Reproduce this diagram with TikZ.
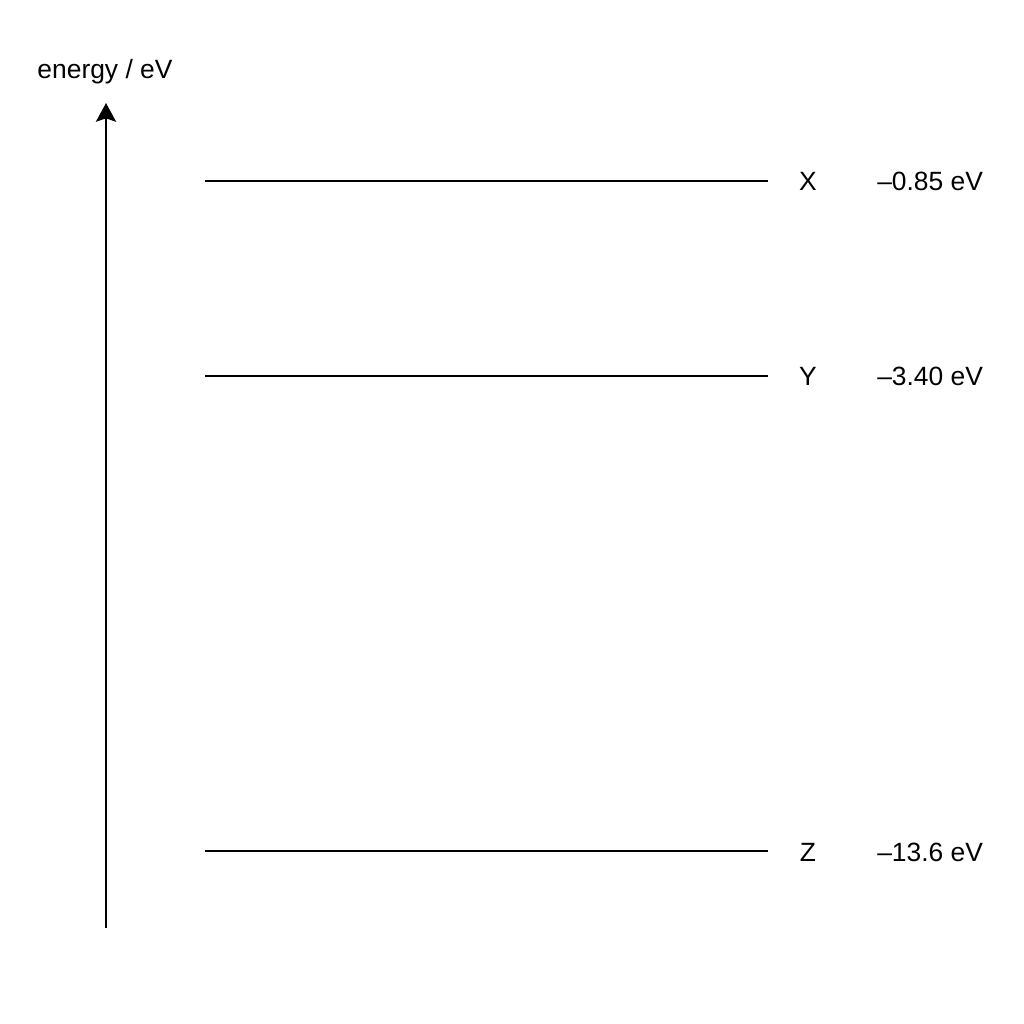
\documentclass[tikz,border=0pt]{standalone}
\usepackage{fontspec}
\setmainfont{Liberation Sans}
\usetikzlibrary{arrows.meta}
\begin{document}
\begin{tikzpicture}[x=0.75pt,y=-0.75pt,
  level/.style={line width=1.9pt},
  lbl/.style={font=\fontsize{19.8pt}{22pt}\selectfont, inner sep=0pt},
  axis/.style={line width=2pt, -{Stealth[length=14pt,width=15pt,inset=2.5pt]}}]
\useasboundingbox[fill=white] (0,0) rectangle (1024,1024);
\coordinate (abot) at (106,928);
\coordinate (atop) at (106,103);
\draw[axis] (abot) -- (atop);
\node[lbl] (axlabel) at (105,72) {energy / eV};
\coordinate (xa) at (205,181); \coordinate (xb) at (768,181);
\coordinate (ya) at (205,376); \coordinate (yb) at (768,376);
\coordinate (za) at (205,851); \coordinate (zb) at (768,851);
\draw[level] (xa) -- (xb);
\draw[level] (ya) -- (yb);
\draw[level] (za) -- (zb);
\node[lbl] (X) at (808,181) {X};
\node[lbl] (Y) at (808,376) {Y};
\node[lbl] (Z) at (808,852) {Z};
\node[lbl,anchor=west] (xv) at (877,181) {–0.85 eV};
\node[lbl,anchor=west] (yv) at (877,376) {–3.40 eV};
\node[lbl,anchor=west] (zv) at (877,852) {–13.6 eV};
\end{tikzpicture}
\end{document}
